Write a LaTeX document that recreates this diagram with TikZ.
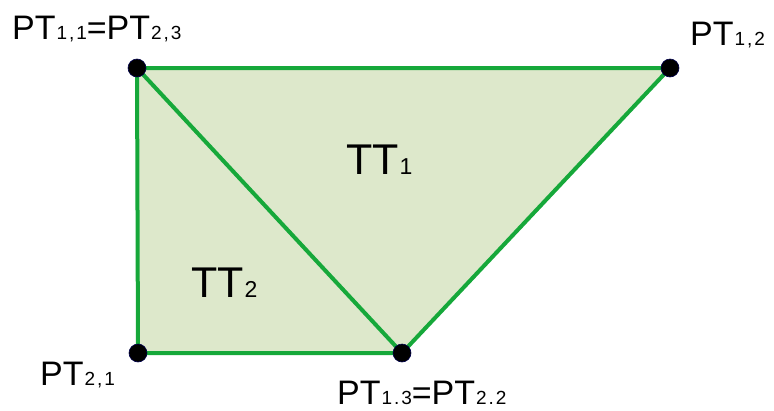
\documentclass[tikz,border=0pt]{standalone}
\usepackage{fontspec}
\setmainfont{Liberation Sans}
\usetikzlibrary{positioning}
\definecolor{edgegreen}{HTML}{16A83A}
\definecolor{facegreen}{HTML}{DDE8CB}
\newcommand{\lsub}[1]{{\fontsize{19}{22}\selectfont\addfontfeature{LetterSpace=10}\kern1pt#1}}
\newcommand{\tsub}[1]{{\fontsize{23}{26}\selectfont\kern1pt#1}}

\begin{document}
\begin{tikzpicture}[x=1pt,y=-1pt,
    vertex/.style={circle,fill=black,draw=black!70!blue,line width=0.6pt,inner sep=0pt,minimum size=18pt},
    edge/.style={draw=edgegreen,line width=4pt,line join=round},
    face/.style={fill=facegreen},
    lab/.style={anchor=base west,inner sep=0pt,font=\fontsize{34}{40}\selectfont},
    tri/.style={anchor=base west,inner sep=0pt,font=\fontsize{43}{48}\selectfont}]
  \useasboundingbox (0,0) rectangle (774,410);
  \coordinate (p11) at (137,68);
  \coordinate (p12) at (670,68);
  \coordinate (p13) at (402,353);
  \coordinate (p21) at (138,353);
  % faces
  \fill[face] (p11) -- (p12) -- (p13) -- cycle;
  \fill[face] (p11) -- (p13) -- (p21) -- cycle;
  % edges
  \draw[edge] (p11) -- (p12) -- (p13) -- cycle;
  \draw[edge] (p13) -- (p21) -- (p11);
  % vertices
  \node[vertex] (v11) at (p11) {};
  \node[vertex] (v12) at (p12) {};
  \node[vertex] (v13) at (p13) {};
  \node[vertex] (v21) at (p21) {};
  % labels
  \node[lab] (l11) at (12,39) {PT\lsub{1,1}=PT\lsub{2,3}};
  \node[lab] (l12) at (690,45) {PT\lsub{1,2}};
  \node[lab] (l21) at (40,385) {PT\lsub{2,1}};
  \node[lab] (l13) at (337,404) {PT\lsub{1.3}=PT\lsub{2.2}};
  \node[tri] (t1) at (346,174) {TT\tsub{1}};
  \node[tri] (t2) at (191,297) {TT\tsub{2}};
\end{tikzpicture}
\end{document}
